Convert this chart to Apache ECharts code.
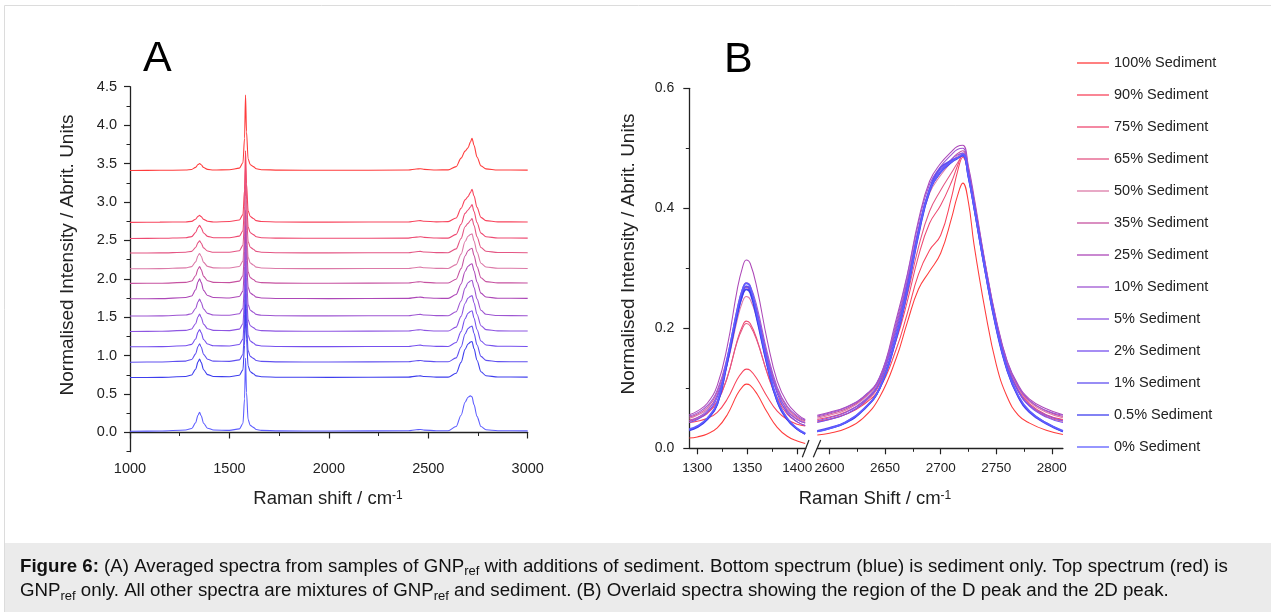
<!DOCTYPE html>
<html>
<head>
<meta charset="utf-8">
<script src="https://cdn.jsdelivr.net/npm/echarts@6/dist/echarts.min.js"></script>
<style>html,body{margin:0;padding:0;background:#fff}#c{width:1271px;height:612px}</style>
</head>
<body>
<div id="c"></div>
<script>
// ---------- categories / legend ----------
const seriesNames = ['100% Sediment','90% Sediment','75% Sediment','65% Sediment','50% Sediment','35% Sediment','25% Sediment','10% Sediment','5% Sediment','2% Sediment','1% Sediment','0.5% Sediment','0% Sediment'];
const seriesColors = ['#ff3c3c','#f8445c','#ee4a72','#e45684','#dc7aa8','#c652a0','#ad48b8','#9e56d2','#8e56e2','#7650ee','#6050f0','#3e3eee','#5e5eff'];

// ---------- tick labels ----------
const yTicksA = [0,0.5,1,1.5,2,2.5,3,3.5,4,4.5];
const yMinorA = [-0.25,0.25,0.75,1.25,1.75,2.25,2.75,3.25,3.75,4.25];
const xTicksBL = [1300,1350,1400];
const xMinorBL = [1325,1375];
const xTicksBR = [2600,2650,2700,2750,2800];
const xMinorBR = [2625,2675,2725,2775];

// ---------- panel A: offset spectra (Raman shift, intensity) ----------
const xA = [1000,1150,1280,1310,1330,1342,1350,1358,1370,1390,1420,1500,1550,1568,1576,1581,1586,1594,1605,1620,1635,1660,1750,2000,2400,2440,2460,2480,2540,2600,2640,2665,2685,2700,2712,2720,2730,2745,2765,2790,2850,3000];
const A_100 = [3.410,3.412,3.415,3.423,3.450,3.487,3.500,3.484,3.448,3.424,3.415,3.420,3.440,3.510,3.830,4.390,3.910,3.560,3.485,3.460,3.432,3.420,3.414,3.412,3.415,3.428,3.432,3.424,3.416,3.418,3.460,3.570,3.662,3.704,3.780,3.830,3.738,3.586,3.469,3.431,3.416,3.414];
const A_90 = [2.735,2.737,2.740,2.748,2.776,2.812,2.825,2.809,2.773,2.749,2.740,2.745,2.765,2.835,3.155,3.665,3.235,2.885,2.810,2.785,2.757,2.745,2.739,2.737,2.740,2.753,2.757,2.749,2.741,2.744,2.791,2.916,3.027,3.070,3.122,3.165,3.079,2.929,2.800,2.757,2.741,2.739];
const A_75 = [2.525,2.527,2.535,2.549,2.602,2.670,2.695,2.664,2.596,2.552,2.535,2.535,2.555,2.625,2.945,3.475,3.025,2.675,2.600,2.575,2.547,2.535,2.529,2.527,2.530,2.543,2.547,2.539,2.531,2.529,2.578,2.710,2.851,2.895,2.934,2.965,2.877,2.732,2.595,2.547,2.532,2.529];
const A_65 = [2.335,2.337,2.345,2.357,2.407,2.471,2.495,2.466,2.402,2.361,2.345,2.345,2.365,2.435,2.755,3.285,2.835,2.485,2.410,2.385,2.357,2.345,2.339,2.337,2.340,2.353,2.357,2.349,2.341,2.340,2.389,2.524,2.677,2.722,2.758,2.785,2.695,2.547,2.407,2.358,2.342,2.340];
const A_50 = [2.130,2.132,2.142,2.158,2.220,2.300,2.330,2.294,2.214,2.162,2.142,2.140,2.160,2.230,2.550,3.080,2.630,2.280,2.205,2.180,2.152,2.140,2.134,2.132,2.135,2.148,2.152,2.144,2.136,2.135,2.185,2.321,2.485,2.553,2.576,2.585,2.494,2.348,2.203,2.153,2.137,2.135];
const A_35 = [1.940,1.942,1.953,1.971,2.039,2.127,2.160,2.120,2.032,1.975,1.953,1.950,1.970,2.040,2.360,2.890,2.440,2.090,2.015,1.990,1.962,1.950,1.944,1.942,1.945,1.958,1.962,1.954,1.946,1.945,1.995,2.132,2.297,2.365,2.388,2.397,2.306,2.159,2.013,1.963,1.947,1.945];
const A_25 = [1.740,1.742,1.756,1.776,1.857,1.961,2.000,1.953,1.849,1.782,1.756,1.750,1.770,1.840,2.160,2.690,2.240,1.890,1.815,1.790,1.762,1.750,1.744,1.742,1.745,1.758,1.762,1.754,1.746,1.745,1.795,1.932,2.096,2.164,2.187,2.196,2.105,1.959,1.813,1.763,1.747,1.745];
const A_10 = [1.515,1.517,1.528,1.546,1.614,1.702,1.735,1.695,1.607,1.550,1.528,1.525,1.545,1.615,1.935,2.465,2.015,1.665,1.590,1.565,1.537,1.525,1.519,1.517,1.520,1.533,1.537,1.529,1.521,1.520,1.571,1.711,1.879,1.948,1.972,1.981,1.888,1.739,1.590,1.538,1.522,1.520];
const A_5 = [1.315,1.317,1.329,1.347,1.416,1.506,1.540,1.500,1.410,1.351,1.329,1.325,1.345,1.415,1.735,2.265,1.815,1.465,1.390,1.365,1.337,1.325,1.319,1.317,1.320,1.333,1.337,1.329,1.321,1.320,1.371,1.511,1.679,1.748,1.772,1.781,1.688,1.539,1.390,1.338,1.322,1.320];
const A_2 = [1.115,1.117,1.129,1.147,1.216,1.306,1.340,1.300,1.210,1.151,1.129,1.125,1.145,1.215,1.535,2.065,1.615,1.265,1.190,1.165,1.137,1.125,1.119,1.117,1.120,1.133,1.137,1.129,1.121,1.120,1.171,1.312,1.481,1.551,1.575,1.584,1.490,1.340,1.190,1.139,1.122,1.120];
const A_1 = [0.915,0.917,0.929,0.949,1.023,1.119,1.155,1.112,1.016,0.953,0.929,0.925,0.945,1.015,1.335,1.865,1.415,1.065,0.990,0.965,0.937,0.925,0.919,0.917,0.920,0.933,0.937,0.929,0.921,0.920,0.971,1.112,1.282,1.352,1.376,1.385,1.291,1.141,0.990,0.939,0.922,0.920];
const A_05 = [0.715,0.717,0.729,0.749,0.823,0.919,0.955,0.912,0.816,0.753,0.729,0.725,0.745,0.815,1.135,1.665,1.215,0.865,0.790,0.765,0.737,0.725,0.719,0.717,0.720,0.733,0.737,0.729,0.721,0.720,0.771,0.912,1.082,1.152,1.176,1.185,1.091,0.941,0.790,0.739,0.722,0.720];
const A_0 = [0.017,0.019,0.032,0.051,0.127,0.225,0.262,0.218,0.120,0.056,0.032,0.027,0.047,0.117,0.437,0.967,0.517,0.167,0.092,0.067,0.039,0.027,0.021,0.019,0.022,0.035,0.039,0.031,0.023,0.022,0.077,0.224,0.394,0.459,0.477,0.463,0.362,0.210,0.077,0.035,0.023,0.021];

// ---------- panel B, D-peak segment ----------
const xBL = [1292,1300,1310,1320,1330,1340,1345,1349,1353,1360,1370,1380,1390,1400,1408];
const BL_100 = [0.017,0.019,0.024,0.034,0.056,0.090,0.102,0.107,0.105,0.090,0.060,0.035,0.020,0.012,0.008];
const BL_90 = [0.043,0.045,0.050,0.060,0.082,0.115,0.127,0.132,0.130,0.115,0.086,0.062,0.048,0.040,0.037];
const BL_75 = [0.045,0.049,0.058,0.077,0.118,0.180,0.203,0.212,0.208,0.180,0.125,0.082,0.057,0.044,0.038];
const BL_65 = [0.047,0.051,0.060,0.079,0.118,0.178,0.199,0.208,0.204,0.178,0.126,0.085,0.061,0.048,0.042];
const BL_50 = [0.050,0.055,0.065,0.089,0.140,0.214,0.243,0.253,0.248,0.214,0.146,0.094,0.065,0.050,0.044];
const BL_35 = [0.052,0.057,0.068,0.094,0.148,0.227,0.257,0.268,0.263,0.227,0.155,0.099,0.068,0.052,0.046];
const BL_25 = [0.056,0.062,0.075,0.105,0.170,0.265,0.300,0.314,0.308,0.265,0.180,0.112,0.076,0.057,0.048];
const BL_10 = [0.054,0.059,0.071,0.097,0.153,0.234,0.265,0.276,0.271,0.234,0.160,0.102,0.070,0.054,0.047];
const BL_5 = [0.046,0.051,0.063,0.089,0.145,0.226,0.258,0.270,0.265,0.227,0.152,0.095,0.063,0.048,0.042];
const BL_2 = [0.043,0.048,0.060,0.085,0.141,0.222,0.253,0.265,0.260,0.222,0.148,0.091,0.059,0.044,0.038];
const BL_1 = [0.031,0.036,0.049,0.074,0.146,0.227,0.259,0.270,0.264,0.217,0.140,0.079,0.049,0.032,0.024];
const BL_05 = [0.030,0.035,0.048,0.073,0.143,0.222,0.254,0.265,0.259,0.213,0.138,0.078,0.048,0.032,0.024];
const BL_0 = [0.032,0.037,0.050,0.076,0.149,0.230,0.263,0.275,0.269,0.221,0.143,0.081,0.050,0.033,0.025];

// ---------- panel B, 2D-peak segment ----------
const xBR = [2589,2600,2615,2630,2645,2660,2670,2680,2690,2700,2710,2715,2720,2725,2730,2740,2750,2760,2770,2780,2795,2810];
const BR_100 = [0.022,0.025,0.033,0.050,0.085,0.150,0.210,0.265,0.295,0.325,0.385,0.420,0.442,0.410,0.340,0.230,0.140,0.085,0.055,0.042,0.030,0.023];
const BR_90 = [0.045,0.049,0.057,0.072,0.100,0.165,0.225,0.290,0.330,0.355,0.420,0.460,0.485,0.455,0.405,0.300,0.205,0.135,0.095,0.072,0.055,0.047];
const BR_75 = [0.048,0.052,0.061,0.077,0.108,0.180,0.245,0.320,0.375,0.405,0.445,0.470,0.490,0.458,0.408,0.303,0.208,0.138,0.097,0.074,0.056,0.048];
const BR_65 = [0.044,0.048,0.057,0.074,0.106,0.185,0.255,0.335,0.395,0.430,0.460,0.475,0.488,0.455,0.405,0.300,0.205,0.135,0.094,0.071,0.053,0.045];
const BR_50 = [0.050,0.055,0.064,0.081,0.114,0.200,0.275,0.360,0.425,0.455,0.478,0.487,0.492,0.460,0.410,0.305,0.210,0.140,0.100,0.077,0.060,0.051];
const BR_35 = [0.052,0.057,0.066,0.083,0.116,0.205,0.280,0.365,0.430,0.460,0.482,0.491,0.496,0.463,0.413,0.307,0.212,0.142,0.102,0.079,0.062,0.053];
const BR_25 = [0.055,0.060,0.069,0.085,0.118,0.215,0.290,0.380,0.445,0.475,0.495,0.503,0.505,0.470,0.420,0.310,0.215,0.145,0.105,0.082,0.066,0.056];
const BR_10 = [0.054,0.059,0.068,0.085,0.118,0.210,0.288,0.375,0.440,0.470,0.490,0.498,0.500,0.466,0.415,0.308,0.213,0.143,0.103,0.080,0.063,0.055];
const BR_5 = [0.046,0.051,0.060,0.078,0.112,0.200,0.278,0.365,0.432,0.462,0.482,0.489,0.492,0.458,0.408,0.302,0.207,0.137,0.096,0.072,0.055,0.046];
const BR_2 = [0.043,0.048,0.057,0.075,0.109,0.195,0.272,0.360,0.430,0.465,0.480,0.484,0.487,0.455,0.405,0.300,0.205,0.135,0.094,0.070,0.052,0.043];
const BR_1 = [0.029,0.034,0.044,0.064,0.100,0.187,0.266,0.360,0.432,0.468,0.480,0.484,0.488,0.452,0.402,0.296,0.200,0.129,0.085,0.060,0.041,0.028];
const BR_05 = [0.028,0.033,0.043,0.063,0.099,0.183,0.262,0.355,0.428,0.460,0.477,0.483,0.489,0.453,0.403,0.297,0.202,0.130,0.086,0.061,0.042,0.028];
const BR_0 = [0.028,0.033,0.044,0.064,0.100,0.185,0.264,0.358,0.430,0.461,0.478,0.484,0.490,0.454,0.404,0.298,0.203,0.131,0.087,0.062,0.042,0.029];

const specA = [A_100,A_90,A_75,A_65,A_50,A_35,A_25,A_10,A_5,A_2,A_1,A_05,A_0];
const specBL = [BL_100,BL_90,BL_75,BL_65,BL_50,BL_35,BL_25,BL_10,BL_5,BL_2,BL_1,BL_05,BL_0];
const specBR = [BR_100,BR_90,BR_75,BR_65,BR_50,BR_35,BR_25,BR_10,BR_5,BR_2,BR_1,BR_05,BR_0];

// ---------- chart ----------
const FONT = "'Liberation Sans', Arial, Helvetica, sans-serif";
const AX = '#222';
const chart = echarts.init(document.getElementById('c'), null, {renderer: 'canvas', width: 1271, height: 612});
const pair = (xs, ys) => xs.map((x, i) => [x, ys[i]]);

const series = [];
seriesNames.forEach((n, i) => {
  const base = {name: n, type: 'line', symbol: 'none', showSymbol: false, color: seriesColors[i], silent: true, animation: false};
  const wB = i >= 10 ? 1.7 : 1.05;
  series.push(Object.assign({}, base, {xAxisIndex: 0, yAxisIndex: 0, smooth: 0.3, smoothMonotone: 'x', lineStyle: {width: 1.1, color: seriesColors[i]}, data: pair(xA, specA[i])}));
  series.push(Object.assign({}, base, {xAxisIndex: 1, yAxisIndex: 2, smooth: 0.45, lineStyle: {width: wB, color: seriesColors[i]}, data: pair(xBL, specBL[i])}));
  series.push(Object.assign({}, base, {xAxisIndex: 3, yAxisIndex: 3, smooth: 0.45, lineStyle: {width: wB, color: seriesColors[i]}, data: pair(xBR, specBR[i])}));
});

const line = {show: true, lineStyle: {color: AX, width: 1.3}};
const plain = v => String(v);
const lbl = (size, margin, extra) => Object.assign({color: AX, fontFamily: FONT, fontSize: size, margin: margin, formatter: plain}, extra || {});

const option = {
  animation: false,
  backgroundColor: 'transparent',
  textStyle: {fontFamily: FONT},
  grid: [
    {left: 130, top: 86.7, width: 397.7, height: 365, containLabel: false},
    {left: 689.3, top: 88.3, width: 116.4, height: 360, containLabel: false},
    {left: 817.3, top: 88.3, width: 245.6, height: 360, containLabel: false}
  ],
  xAxis: [
    {gridIndex: 0, type: 'value', position: 'bottom', min: 1000, max: 3000, interval: 500, axisLine: line,
     axisTick: {show: true, length: 6, lineStyle: {color: AX, width: 1.2}},
     minorTick: {show: true, splitNumber: 2, length: 3.5, lineStyle: {color: AX, width: 1}},
     axisLabel: lbl(14.5, 10), splitLine: {show: false}},
    {gridIndex: 1, type: 'value', position: 'bottom', min: 1292, max: 1408.5, axisLine: line,
     axisTick: {show: true, length: 6, customValues: xTicksBL, lineStyle: {color: AX, width: 1.2}},
     axisLabel: lbl(13.5, 13, {customValues: xTicksBL}), splitLine: {show: false}},
    {gridIndex: 1, type: 'value', position: 'bottom', min: 1292, max: 1408.5, axisLine: {show: false},
     axisTick: {show: true, length: 3.5, customValues: xMinorBL, lineStyle: {color: AX, width: 1}},
     axisLabel: {show: false}, splitLine: {show: false}},
    {gridIndex: 2, type: 'value', position: 'bottom', min: 2589, max: 2810, axisLine: line,
     axisTick: {show: true, length: 6, customValues: xTicksBR, lineStyle: {color: AX, width: 1.2}},
     axisLabel: lbl(13.5, 13, {customValues: xTicksBR}), splitLine: {show: false}},
    {gridIndex: 2, type: 'value', position: 'bottom', min: 2589, max: 2810, axisLine: {show: false},
     axisTick: {show: true, length: 3.5, customValues: xMinorBR, lineStyle: {color: AX, width: 1}},
     axisLabel: {show: false}, splitLine: {show: false}}
  ],
  yAxis: [
    {gridIndex: 0, type: 'value', position: 'left', min: -0.25, max: 4.5, axisLine: line,
     axisTick: {show: true, length: 6, customValues: yTicksA, lineStyle: {color: AX, width: 1.2}},
     axisLabel: lbl(14.5, 13, {customValues: yTicksA, formatter: v => Number(v).toFixed(1)}), splitLine: {show: false}},
    {gridIndex: 0, type: 'value', position: 'left', min: -0.25, max: 4.5, axisLine: {show: false},
     axisTick: {show: true, length: 3.5, customValues: yMinorA, lineStyle: {color: AX, width: 1}},
     axisLabel: {show: false}, splitLine: {show: false}},
    {gridIndex: 1, type: 'value', position: 'left', min: 0, max: 0.6, interval: 0.2, axisLine: line,
     axisTick: {show: true, length: 6, lineStyle: {color: AX, width: 1.2}},
     minorTick: {show: true, splitNumber: 2, length: 3.5, lineStyle: {color: AX, width: 1}},
     axisLabel: lbl(14, 15, {formatter: v => Number(v).toFixed(1)}), splitLine: {show: false}},
    {gridIndex: 2, type: 'value', position: 'left', min: 0, max: 0.6, show: false, splitLine: {show: false}}
  ],
  legend: {
    data: seriesNames, orient: 'vertical', left: 1077, top: 55.5, padding: 0,
    icon: 'rect', itemWidth: 32, itemHeight: 1.3, itemGap: 17, selectedMode: false,
    textStyle: {color: AX, fontFamily: FONT, fontSize: 14.5}
  },
  series: series,
  graphic: [
    {type: 'rect', z: -10, silent: true, shape: {x: 4.5, y: 5.5, width: 1300, height: 700}, style: {fill: '#ffffff', stroke: '#dcdcdc', lineWidth: 1}},
    {type: 'rect', z: -9, silent: true, shape: {x: 5, y: 543, width: 1270, height: 70}, style: {fill: '#ebebeb'}},
    {type: 'text', silent: true, x: 143, y: 59, style: {text: 'A', fontFamily: FONT, fontSize: 43, fill: '#000', align: 'left', verticalAlign: 'middle'}},
    {type: 'text', silent: true, x: 724, y: 60, style: {text: 'B', fontFamily: FONT, fontSize: 43, fill: '#000', align: 'left', verticalAlign: 'middle'}},
    {type: 'text', silent: true, x: 67.5, y: 255, rotation: Math.PI / 2, style: {text: 'Normalised Intensity / Abrit. Units', fontFamily: FONT, fontSize: 19, fill: AX, align: 'center', verticalAlign: 'middle'}},
    {type: 'text', silent: true, x: 629, y: 254, rotation: Math.PI / 2, style: {text: 'Normalised Intensity / Abrit. Units', fontFamily: FONT, fontSize: 19, fill: AX, align: 'center', verticalAlign: 'middle'}},
    {type: 'text', silent: true, x: 328, y: 499, style: {text: 'Raman shift / cm{sup|-1}', fontFamily: FONT, fontSize: 18.5, fill: AX, align: 'center', verticalAlign: 'middle',
      rich: {sup: {fontFamily: FONT, fontSize: 12, fill: AX, verticalAlign: 'top', lineHeight: 12, padding: [0, 0, 8, 0]}}}},
    {type: 'text', silent: true, x: 875, y: 499, style: {text: 'Raman Shift / cm{sup|-1}', fontFamily: FONT, fontSize: 18.5, fill: AX, align: 'center', verticalAlign: 'middle',
      rich: {sup: {fontFamily: FONT, fontSize: 12, fill: AX, verticalAlign: 'top', lineHeight: 12, padding: [0, 0, 8, 0]}}}},
    {type: 'line', silent: true, shape: {x1: 802.3, y1: 457.3, x2: 809, y2: 440}, style: {stroke: AX, lineWidth: 1.2}},
    {type: 'line', silent: true, shape: {x1: 813.3, y1: 457.3, x2: 820.7, y2: 440}, style: {stroke: AX, lineWidth: 1.2}},
    {type: 'text', silent: true, x: 20, y: 555, style: {
      text: '{b|Figure 6:}{n| (A) Averaged spectra from samples of GNP}{s|ref}{n| with additions of sediment. Bottom spectrum (blue) is sediment only. Top spectrum (red) is}',
      fill: '#111', align: 'left', verticalAlign: 'top',
      rich: {
        b: {fontFamily: FONT, fontSize: 18.7, fontWeight: 'bold', fill: '#111', lineHeight: 23, verticalAlign: 'middle'},
        n: {fontFamily: FONT, fontSize: 18.7, fill: '#111', lineHeight: 23, verticalAlign: 'middle'},
        s: {fontFamily: FONT, fontSize: 13, fill: '#111', lineHeight: 13, verticalAlign: 'bottom'}
      }}},
    {type: 'text', silent: true, x: 20, y: 579.5, style: {
      text: '{n|GNP}{s|ref}{n| only. All other spectra are mixtures of GNP}{s|ref}{n| and sediment. (B) Overlaid spectra showing the region of the D peak and the 2D peak.}',
      fill: '#111', align: 'left', verticalAlign: 'top',
      rich: {
        n: {fontFamily: FONT, fontSize: 18.7, fill: '#111', lineHeight: 23, verticalAlign: 'middle'},
        s: {fontFamily: FONT, fontSize: 13, fill: '#111', lineHeight: 13, verticalAlign: 'bottom'}
      }}}
  ]
};
chart.setOption(option);
</script>
</body>
</html>
